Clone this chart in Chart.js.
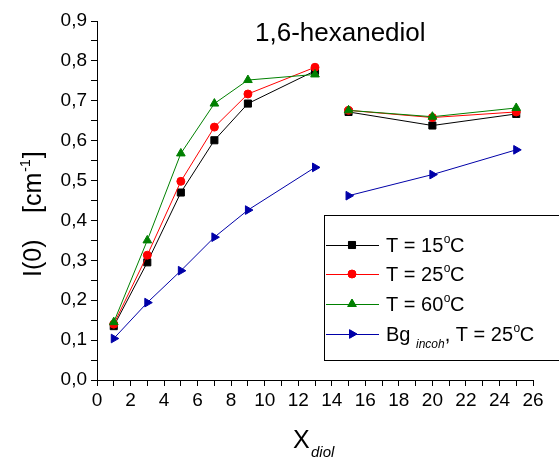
<!DOCTYPE html>
<html>
<head>
<meta charset="utf-8">
<script src="https://cdn.jsdelivr.net/npm/chart.js@4/dist/chart.umd.min.js"></script>
<style>
  html, body { margin: 0; padding: 0; background: #fff; }
  #wrap { width: 559px; height: 459px; }
</style>
</head>
<body>
<div id="wrap"><canvas id="chart" width="559" height="459"></canvas></div>
<script>
// Valores
const xDiol = [1, 3, 5, 7, 9, 13, 15, 20, 25];
const t15 = [0.135, 0.295, 0.470, 0.601, 0.693, 0.775, 0.672, 0.638, 0.667];
const t25 = [0.140, 0.313, 0.498, 0.634, 0.717, 0.784, 0.676, 0.658, 0.672];
const t60 = [0.145, 0.350, 0.568, 0.693, 0.752, 0.766, 0.676, 0.660, 0.682];
const bgIncoh = [0.104, 0.194, 0.274, 0.358, 0.426, 0.533, 0.462, 0.515, 0.577];
const gapAt = 14; // hueco entre 13 y 15

const xTicks = { min: 0, max: 26, step: 1, labelEvery: 2 };
const yTicks = { min: 0, max: 0.9, step: 0.05 };

const FONT = '"Liberation Sans", Arial, sans-serif';

function toPoints(ys) {
    const pts = [];
    xDiol.forEach((x, i) => {
        if (x > gapAt && pts.length && pts[pts.length - 1].x < gapAt) {
            pts.push({ x: gapAt, y: null });
        }
        pts.push({ x: x, y: ys[i] });
    });
    return pts;
}

const series = [
    { label: 'T = 15', sup: 'o', tail: 'C', data: t15, color: '#000000', style: 'rect', radius: 5, rot: 0, order: 3 },
    { label: 'T = 25', sup: 'o', tail: 'C', data: t25, color: '#ff0000', style: 'circle', radius: 4, rot: 0, order: 2 },
    { label: 'T = 60', sup: 'o', tail: 'C', data: t60, color: '#008000', style: 'triangle', radius: 5, rot: 0, order: 1 },
    { label: 'Bg', sub: 'incoh', rest: ', T = 25', sup: 'o', tail: 'C', data: bgIncoh, color: '#0000a8', style: 'triangle', radius: 5, rot: 90, order: 0 }
];

// Títulos, ejes y leyenda dibujados a mano (sub/superíndices)
const decorPlugin = {
    id: 'decor',
    afterDraw(chart) {
        const ctx = chart.ctx;
        ctx.save();
        ctx.fillStyle = '#000';
        ctx.textBaseline = 'alphabetic';
        ctx.textAlign = 'left';

        // título
        ctx.font = '26px ' + FONT;
        ctx.fillText('1,6-hexanediol', 255, 41);

        // eje X
        ctx.font = '25px ' + FONT;
        ctx.fillText('X', 293, 448);
        ctx.font = 'italic 15px ' + FONT;
        ctx.fillText('diol', 311, 457);

        // eje Y (rotado)
        ctx.save();
        ctx.translate(41, 277);
        ctx.rotate(-Math.PI / 2);
        ctx.font = '25px ' + FONT;
        ctx.fillText('I(0)', 0, 0);
        let px = 64;
        ctx.fillText('[cm', px, 0);
        px += ctx.measureText('[cm').width;
        ctx.font = '14px ' + FONT;
        ctx.fillText('-1', px + 1, -11);
        px += ctx.measureText('-1').width + 2;
        ctx.font = '25px ' + FONT;
        ctx.fillText(']', px, 0);
        ctx.restore();

        // leyenda
        const box = { left: 324.5, top: 215.5, right: 560, bottom: 360.5 };
        ctx.fillStyle = '#fff';
        ctx.fillRect(box.left, box.top, box.right - box.left, box.bottom - box.top);
        ctx.strokeStyle = '#000';
        ctx.lineWidth = 1;
        ctx.strokeRect(box.left, box.top, box.right - box.left, box.bottom - box.top);

        const rows = [245, 274, 304, 334];
        series.forEach((s, i) => {
            const y = rows[i];
            ctx.strokeStyle = s.color;
            ctx.lineWidth = 1;
            ctx.beginPath();
            ctx.moveTo(326, y + 0.5);
            ctx.lineTo(379, y + 0.5);
            ctx.stroke();
            ctx.fillStyle = s.color;
            Chart.helpers.drawPoint(ctx, {
                pointStyle: s.style, radius: s.radius, rotation: s.rot, borderWidth: 1
            }, 352, y);
            ctx.fill();

            ctx.fillStyle = '#000';
            const base = y + 7;
            let x = 386;
            ctx.font = '20px ' + FONT;
            ctx.fillText(s.label, x, base);
            x += ctx.measureText(s.label).width;
            if (s.sub) {
                x += ctx.measureText(' ').width;
                ctx.font = 'italic 12px ' + FONT;
                ctx.fillText(s.sub, x, base + 7);
                x += ctx.measureText(s.sub).width;
                ctx.font = '20px ' + FONT;
                ctx.fillText(s.rest, x, base);
                x += ctx.measureText(s.rest).width;
            }
            ctx.font = '12px ' + FONT;
            ctx.fillText(s.sup, x + 0.5, base - 9);
            x += ctx.measureText(s.sup).width;
            ctx.font = '20px ' + FONT;
            ctx.fillText(s.tail, x, base);
        });
        ctx.restore();
    }
};

const isMultiple = (v, m) => Math.abs(v / m - Math.round(v / m)) < 1e-6;

new Chart(document.getElementById('chart').getContext('2d'), {
    type: 'line',
    data: {
        datasets: series.map(s => ({
            label: s.label,
            data: toPoints(s.data),
            borderColor: s.color,
            backgroundColor: s.color,
            borderWidth: 1,
            pointStyle: s.style,
            pointRadius: s.radius,
            pointRotation: s.rot,
            pointBorderWidth: 1,
            pointBorderColor: s.color,
            pointBackgroundColor: s.color,
            spanGaps: false,
            tension: 0,
            fill: false,
            order: s.order
        }))
    },
    options: {
        responsive: false,
        animation: false,
        layout: { padding: { left: 0, top: 21, right: 26, bottom: 0 } },
        plugins: {
            legend: { display: false },
            title: { display: false },
            tooltip: { enabled: false }
        },
        scales: {
            x: {
                type: 'linear',
                min: xTicks.min,
                max: xTicks.max,
                afterFit: (scale) => { scale.height = 79; },
                border: { display: true, color: '#000', width: 1 },
                grid: { drawOnChartArea: false, drawTicks: true, tickLength: 6, color: '#000' },
                ticks: {
                    stepSize: xTicks.step,
                    autoSkip: false,
                    maxRotation: 0,
                    padding: 3,
                    color: '#000',
                    font: { family: FONT, size: 19 },
                    callback: (v) => isMultiple(v, xTicks.labelEvery) ? String(v) : ''
                }
            },
            y: {
                type: 'linear',
                min: yTicks.min,
                max: yTicks.max,
                afterFit: (scale) => { scale.width = 97; },
                border: { display: true, color: '#000', width: 1 },
                grid: { drawOnChartArea: false, drawTicks: true, tickLength: 6, color: '#000' },
                ticks: {
                    stepSize: yTicks.step,
                    autoSkip: false,
                    padding: 4,
                    color: '#000',
                    font: { family: FONT, size: 19 },
                    callback: (v) => isMultiple(v, 0.1) ? v.toFixed(1).replace('.', ',') : ''
                }
            }
        }
    },
    plugins: [decorPlugin]
});
</script>
</body>
</html>
